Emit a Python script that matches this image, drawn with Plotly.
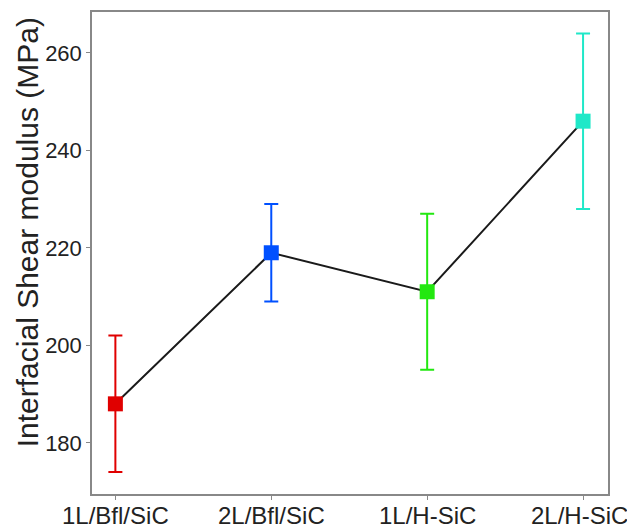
import plotly.graph_objects as go

categories = ["1L/Bfl/SiC", "2L/Bfl/SiC", "1L/H-SiC", "2L/H-SiC"]
x_pos = [1, 2, 3, 4]
modulus = [188, 219, 211, 246]
err = [14, 10, 16, 18]
colors = ["#e00000", "#0050ff", "#22e810", "#1fe8c8"]
y_ticks = [180, 200, 220, 240, 260]

fig = go.Figure()
fig.add_trace(go.Scatter(x=x_pos, y=modulus, mode="lines",
                         line=dict(color="#1a1a1a", width=2), showlegend=False))
for xi, yi, ei, c in zip(x_pos, modulus, err, colors):
    fig.add_trace(go.Scatter(
        x=[xi], y=[yi], mode="markers",
        marker=dict(symbol="square", size=15, color=c, line=dict(width=0)),
        error_y=dict(type="data", array=[ei], color=c, thickness=2, width=7),
        showlegend=False))

label_font = dict(family="Liberation Sans, Arial", size=24, color="#222222")
annotations = [dict(text="Interfacial Shear modulus (MPa)", textangle=-90,
                    xref="paper", yref="paper", x=-0.126, y=0.543,
                    xanchor="center", yanchor="middle", showarrow=False,
                    font=dict(family="Liberation Sans, Arial", size=30, color="#222222"))]
for i, (xi, lab) in enumerate(zip(x_pos, categories)):
    annotations.append(dict(text=lab, x=xi, y=0, xref="x", yref="paper",
                            xanchor="center", yanchor="top", yshift=-6,
                            xshift=-4 if i == len(categories) - 1 else 0,
                            showarrow=False, font=label_font))

axis_common = dict(showline=True, linecolor="#888888", linewidth=1.5, mirror=True,
                   ticks="outside", ticklen=4, tickcolor="#888888", showgrid=False,
                   zeroline=False)
fig.update_layout(
    width=627, height=522,
    margin=dict(l=84, r=27, t=2, b=36),
    paper_bgcolor="white", plot_bgcolor="white",
    xaxis=dict(range=[0.85, 4.16], tickvals=x_pos, showticklabels=False, **axis_common),
    yaxis=dict(range=[169.5, 268.4], tickvals=y_ticks,
               tickfont=dict(family="Liberation Sans, Arial", size=22, color="#222222"),
               **axis_common),
    annotations=annotations,
)
fig.write_html("out.html")
